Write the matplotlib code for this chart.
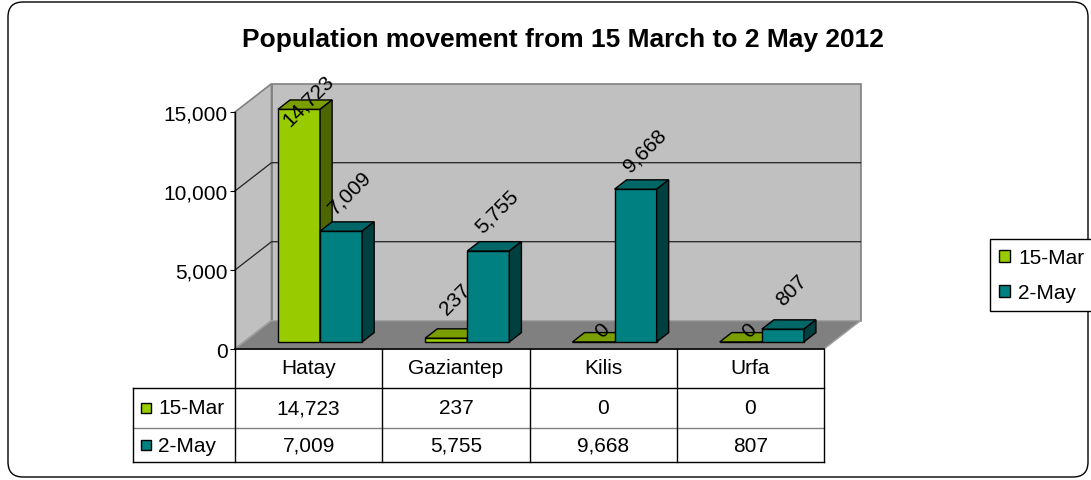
import matplotlib.pyplot as plt
from matplotlib.patches import Polygon, Rectangle, FancyBboxPatch, Patch
from matplotlib.transforms import blended_transform_factory
from matplotlib.ticker import StrMethodFormatter

categories = ["Hatay", "Gaziantep", "Kilis", "Urfa"]
series_names = ["15-Mar", "2-May"]
mar15 = [14723, 237, 0, 0]
may2 = [7009, 5755, 9668, 807]
yticks = [0, 5000, 10000, 15000]
title = "Population movement from 15 March to 2 May 2012"

plt.rcParams['font.family'] = ['Liberation Sans', 'DejaVu Sans']

W, H = 1091, 481


def fx(px):
    return px / W


def fy(py):
    return 1 - py / H


fig = plt.figure(figsize=(W / 100, H / 100), dpi=100)

n = len(categories)
ymax = yticks[-1]

# front plane of the 3d box
ax = fig.add_axes([fx(235), fy(350), fx(824) - fx(235), fy(113) - fy(350)])
ax.set_xlim(0, n)
ax.set_ylim(0, ymax)
ax.patch.set_visible(False)

px_x = 147.25            # pixels per category
px_y = 237 / ymax        # pixels per unit
DX = 36.5 / px_x         # depth of the box, data units
DY = 28.3 / px_y

# walls and floor
wall = "#c0c0c0"
ax.add_patch(Polygon([(DX, DY), (DX, ymax + DY), (n + DX, ymax + DY), (n + DX, DY)],
                     fc=wall, ec="#808080", lw=1.2, zorder=0, clip_on=False))
ax.add_patch(Polygon([(0, 0), (0, ymax), (DX, ymax + DY), (DX, DY)],
                     fc=wall, ec="#808080", lw=1.2, zorder=0, clip_on=False))
ax.add_patch(Polygon([(0, 0), (DX, DY), (n + DX, DY), (n, 0)],
                     fc="#808080", ec="#a0a0a0", lw=1, zorder=0.5, clip_on=False))
for v in yticks[1:-1]:
    ax.plot([0, DX, n + DX], [v, v + DY, v + DY], color="#222222", lw=0.9,
            zorder=0.6, clip_on=False)

for side in ["top", "right"]:
    ax.spines[side].set_visible(False)
ax.spines["left"].set_linewidth(1)
ax.spines["bottom"].set_linewidth(1.2)
ax.set_xticks([])
ax.set_yticks(yticks)
ax.yaxis.set_major_formatter(StrMethodFormatter("{x:,.0f}"))
ax.tick_params(axis="y", length=3.6, width=0.8, pad=1.5, labelsize=15)

# bars
colors = [("#99cc00", "#7a9e00", "#4d6600"), ("#008080", "#006666", "#004040")]
f0, f1 = 0.25, 0.58
w = 0.2857
off = 0.23
ddx, ddy = (f1 - f0) * DX, (f1 - f0) * DY

for s, vals in enumerate([mar15, may2]):
    front, topc, sidec = colors[s]
    x0 = [i + off + s * w + f0 * DX for i in range(n)]
    ax.bar(x0, vals, width=w, bottom=f0 * DY, align="edge", color=front,
           edgecolor="black", lw=1, zorder=3 + s, clip_on=False)
    for i, v in enumerate(vals):
        xa = x0[i]
        yb = f0 * DY
        yt = v + yb
        ax.add_patch(Polygon([(xa, yt), (xa + w, yt), (xa + w + ddx, yt + ddy), (xa + ddx, yt + ddy)],
                             fc=topc, ec="black", lw=1, zorder=3 + s, clip_on=False))
        ax.add_patch(Polygon([(xa + w, yb), (xa + w, yt), (xa + w + ddx, yt + ddy), (xa + w + ddx, yb + ddy)],
                             fc=sidec, ec="black", lw=1, zorder=3 + s, clip_on=False))
        txt = f"{v:,}"
        up = 7 + min(len(txt) - 1, 2) * 14
        cx = xa + w / 2 + ddx / 2 + 3 / px_x
        cy = min(yt + ddy / 2 + up / px_y, 15800)
        ax.text(cx, cy, txt, rotation=45, rotation_mode="anchor", ha="center",
                va="center", fontsize=15, zorder=6)

# data table
tt = blended_transform_factory(ax.transData, fig.transFigure)
xl = (133 - 235) / px_x
for py, col in [(389, "black"), (429, "#808080"), (463, "black")]:
    ax.plot([xl, n], [fy(py)] * 2, transform=tt, color=col, lw=1, clip_on=False)
for k in range(n + 1):
    ax.plot([k, k], [fy(350), fy(463)], transform=tt, color="black", lw=1, clip_on=False)
ax.plot([xl, xl], [fy(389), fy(463)], transform=tt, color="black", lw=1, clip_on=False)

for i, cat in enumerate(categories):
    ax.text(i + 0.5, fy(369), cat, transform=tt, ha="center", va="center", fontsize=15)

for r, (name, vals, py) in enumerate(zip(series_names, [mar15, may2], [409, 446])):
    ax.add_patch(Rectangle(((141 - 235) / px_x, fy(py + 5)), 10 / px_x, 10 / H,
                           transform=tt, fc=colors[r][0], ec="black", lw=1, clip_on=False))
    ax.text((158 - 235) / px_x, fy(py), name, transform=tt, ha="left", va="center", fontsize=15)
    for i, v in enumerate(vals):
        ax.text(i + 0.5, fy(py), f"{v:,}", transform=tt, ha="center", va="center", fontsize=15)

# legend
handles = [Patch(fc=colors[s][0], ec="black", lw=1) for s in range(2)]
leg = fig.legend(handles, series_names, loc="upper left", bbox_to_anchor=(fx(990), fy(240)),
                 frameon=True, fancybox=False, edgecolor="black", framealpha=1, fontsize=15,
                 handlelength=0.5, handleheight=0.5, handletextpad=0.4, labelspacing=0.75,
                 borderpad=0.45, borderaxespad=0)
leg.get_frame().set_linewidth(1)

fig.text(fx(563), fy(40), title, ha="center", va="center", fontsize=19, fontweight="bold")

fig.add_artist(FancyBboxPatch((0.08, 0.03), 10.8, 4.75, boxstyle="round,pad=0,rounding_size=0.15",
                              transform=fig.dpi_scale_trans, fill=False, ec="black", lw=1))

fig.savefig("out.png", dpi=100)
